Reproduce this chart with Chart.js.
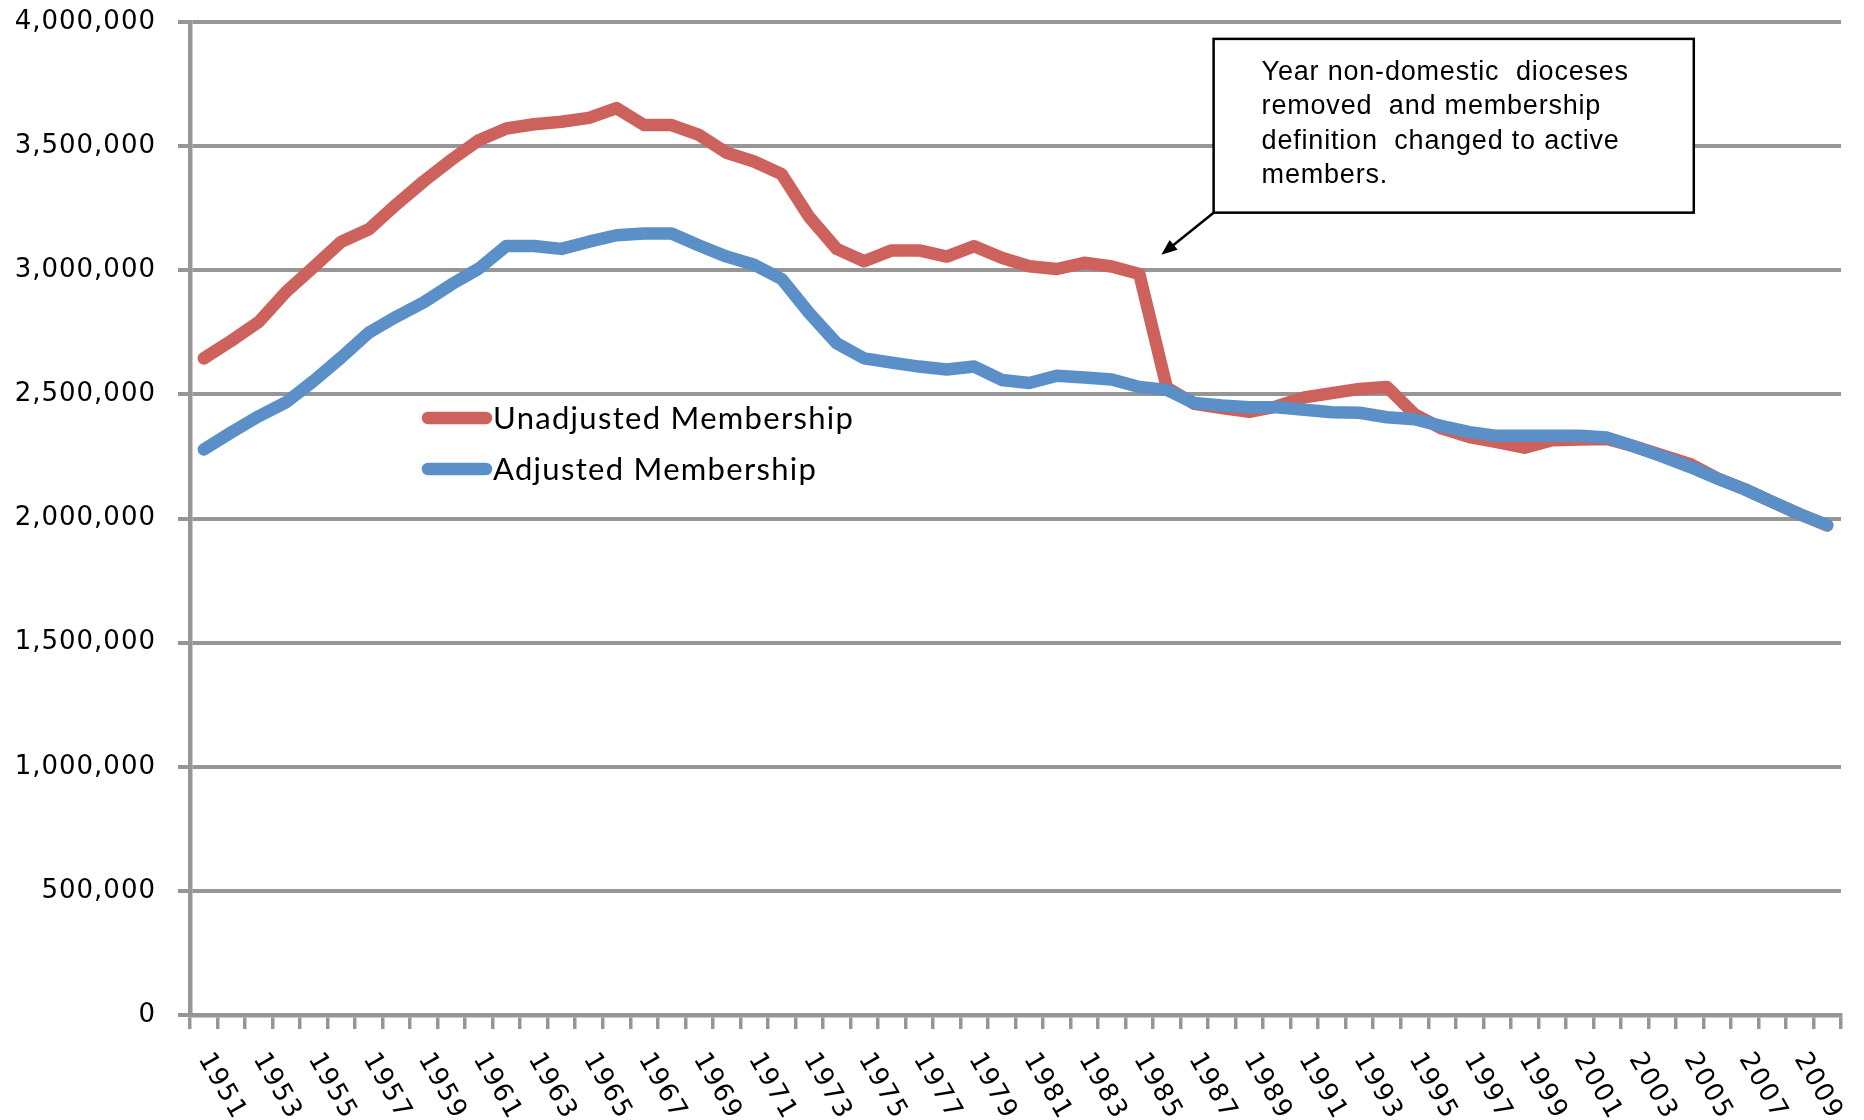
<!DOCTYPE html>
<html>
<head>
<meta charset="utf-8">
<title>Membership 1951-2010</title>
<script src="https://cdn.jsdelivr.net/npm/chart.js@4.4.1/dist/chart.umd.min.js"></script>
<style>
  html, body { margin: 0; padding: 0; background: #fff; }
  #wrap { width: 1864px; height: 1120px; position: relative; }
</style>
</head>
<body>
<div id="wrap"><canvas id="membershipChart"></canvas></div>
<script>
// Categories (one per year)
const years = [
  '1951', '1952', '1953', '1954', '1955', '1956', '1957', '1958', '1959', '1960',
  '1961', '1962', '1963', '1964', '1965', '1966', '1967', '1968', '1969', '1970',
  '1971', '1972', '1973', '1974', '1975', '1976', '1977', '1978', '1979', '1980',
  '1981', '1982', '1983', '1984', '1985', '1986', '1987', '1988', '1989', '1990',
  '1991', '1992', '1993', '1994', '1995', '1996', '1997', '1998', '1999', '2000',
  '2001', '2002', '2003', '2004', '2005', '2006', '2007', '2008', '2009', '2010'
];

// Only every other year is labelled on the axis
const xTickLabels = [
  '1951', '1953', '1955', '1957', '1959', '1961', '1963', '1965', '1967', '1969',
  '1971', '1973', '1975', '1977', '1979', '1981', '1983', '1985', '1987', '1989',
  '1991', '1993', '1995', '1997', '1999', '2001', '2003', '2005', '2007', '2009'
];

// Series values
const unadjusted = [
  2645000, 2716000, 2792000, 2914000, 3014000, 3115000, 3165000, 3265000, 3359000, 3445000,
  3524000, 3571000, 3588000, 3598000, 3614000, 3653000, 3585000, 3585000, 3545000, 3473000,
  3438000, 3387000, 3215000, 3086000, 3036000, 3080000, 3080000, 3055000, 3097000, 3050000,
  3016000, 3005000, 3030000, 3015000, 2985000, 2527000, 2462000, 2445000, 2430000, 2452000,
  2488000, 2505000, 2522000, 2530000, 2420000, 2362000, 2328000, 2308000, 2285000, 2315000,
  2318000, 2320000, 2290000, 2255000, 2220000, 2162000, 2118000, 2067000, 2017000, 1972000
];

const adjusted = [
  2278000, 2347000, 2412000, 2469000, 2555000, 2649000, 2749000, 2813000, 2871000, 2943000,
  3007000, 3098000, 3098000, 3086000, 3115000, 3141000, 3148000, 3148000, 3100000, 3055000,
  3022000, 2965000, 2828000, 2706000, 2645000, 2628000, 2612000, 2600000, 2612000, 2558000,
  2546000, 2575000, 2568000, 2560000, 2530000, 2518000, 2465000, 2455000, 2448000, 2448000,
  2438000, 2428000, 2426000, 2408000, 2400000, 2372000, 2348000, 2333000, 2333000, 2333000,
  2333000, 2326000, 2290000, 2250000, 2208000, 2161000, 2118000, 2067000, 2017000, 1974000
];

const seriesLabels = ['Unadjusted Membership', 'Adjusted Membership'];

const noteLines = [
  'Year non-domestic  dioceses',
  'removed  and membership',
  'definition  changed to active',
  'members.'
];

const GRID = '#969696';
const COLORS = { unadjusted: '#CD615B', adjusted: '#5B8FC7' };

// Callout box / arrow anchors in data terms (category index, value)
const NOTE_BOX = { left: 36.7, right: 54.15, top: 3932000, bottom: 3232000 };
const NOTE_TIP = { index: 34.8, value: 3062000 };

/**
 * Year labels (rotated clockwise), legend and callout
 */
const overlayPlugin = {
  id: 'overlay',
  beforeDraw(chart) {
    // spacing for the value axis labels
    chart.ctx.letterSpacing = '1px';
  },
  afterDraw(chart) {
    const { ctx, chartArea, scales: { x, y } } = chart;
    ctx.letterSpacing = '0px';
    ctx.save();

    // x labels
    ctx.font = '26px "DejaVu Sans"';
    ctx.fillStyle = '#000';
    ctx.textAlign = 'left';
    ctx.textBaseline = 'middle';
    ctx.letterSpacing = '1.5px';
    xTickLabels.forEach(label => {
      const px = x.getPixelForValue(years.indexOf(label));
      ctx.save();
      ctx.translate(px, chartArea.bottom + 40);
      ctx.rotate(Math.PI / 3);
      ctx.fillText(label, 0, 0);
      ctx.restore();
    });

    // legend
    ctx.letterSpacing = '1.3px';
    ctx.font = '31px Lato';
    ctx.lineCap = 'round';
    ctx.lineWidth = 12.5;
    chart.data.datasets.forEach((ds, i) => {
      const ly = chartArea.top + 396 + i * 51;
      const lx = chartArea.left + 238;
      ctx.strokeStyle = ds.borderColor;
      ctx.beginPath();
      ctx.moveTo(lx, ly);
      ctx.lineTo(lx + 58, ly);
      ctx.stroke();
      ctx.fillStyle = '#000';
      ctx.fillText(ds.label, lx + 65, ly + 1);
    });

    // callout box
    const bx0 = x.getPixelForValue(NOTE_BOX.left);
    const bx1 = x.getPixelForValue(NOTE_BOX.right);
    const by0 = y.getPixelForValue(NOTE_BOX.top);
    const by1 = y.getPixelForValue(NOTE_BOX.bottom);
    ctx.fillStyle = '#fff';
    ctx.fillRect(bx0, by0, bx1 - bx0, by1 - by0);
    ctx.strokeStyle = '#000';
    ctx.lineWidth = 2.5;
    ctx.lineCap = 'butt';
    ctx.strokeRect(bx0, by0, bx1 - bx0, by1 - by0);

    ctx.fillStyle = '#000';
    ctx.font = '27px "Liberation Sans"';
    ctx.letterSpacing = '0.8px';
    ctx.textBaseline = 'alphabetic';
    noteLines.forEach((line, i) => {
      ctx.fillText(line, bx0 + 48, by0 + 41 + i * 34.5);
    });
    ctx.letterSpacing = '0px';

    // arrow
    const tx = x.getPixelForValue(NOTE_TIP.index);
    const ty = y.getPixelForValue(NOTE_TIP.value);
    const ang = Math.atan2(ty - by1, tx - bx0);
    const head = 17;
    ctx.lineWidth = 2.5;
    ctx.beginPath();
    ctx.moveTo(bx0, by1);
    ctx.lineTo(tx - Math.cos(ang) * head * 0.8, ty - Math.sin(ang) * head * 0.8);
    ctx.stroke();
    ctx.beginPath();
    ctx.moveTo(tx, ty);
    ctx.lineTo(tx - head * Math.cos(ang - 0.38), ty - head * Math.sin(ang - 0.38));
    ctx.lineTo(tx - head * Math.cos(ang + 0.38), ty - head * Math.sin(ang + 0.38));
    ctx.closePath();
    ctx.fill();

    ctx.restore();
  }
};

const ctx = document.getElementById('membershipChart').getContext('2d');

new Chart(ctx, {
  type: 'line',
  data: {
    labels: years,
    datasets: [
      {
        label: seriesLabels[0],
        data: unadjusted,
        borderColor: COLORS.unadjusted,
        backgroundColor: COLORS.unadjusted,
        borderWidth: 12.5,
        borderCapStyle: 'round',
        borderJoinStyle: 'round',
        pointRadius: 0,
        tension: 0,
        order: 1
      },
      {
        label: seriesLabels[1],
        data: adjusted,
        borderColor: COLORS.adjusted,
        backgroundColor: COLORS.adjusted,
        borderWidth: 12.5,
        borderCapStyle: 'round',
        borderJoinStyle: 'round',
        pointRadius: 0,
        tension: 0,
        order: 0
      }
    ]
  },
  options: {
    responsive: true,
    maintainAspectRatio: false,
    animation: false,
    layout: {
      padding: { top: 22, right: 23, left: 0, bottom: 0 }
    },
    plugins: {
      legend: { display: false },
      tooltip: { enabled: false }
    },
    scales: {
      x: {
        offset: true,
        grid: {
          offset: true,
          drawOnChartArea: false,
          drawTicks: true,
          tickLength: 14,
          color: GRID,
          lineWidth: 3.5
        },
        border: { color: GRID, width: 4.5 },
        ticks: { display: false },
        afterFit(scale) {
          scale.height = 105;
          scale.paddingLeft = 0;
          scale.paddingRight = 0;
        }
      },
      y: {
        min: 0,
        max: 4000000,
        grid: {
          color: GRID,
          lineWidth: 4,
          drawTicks: true,
          tickLength: 12
        },
        border: { color: GRID, width: 4.5 },
        ticks: {
          stepSize: 500000,
          padding: 22,
          color: '#000',
          font: { family: '"DejaVu Sans"', size: 26 },
          callback: v => v.toLocaleString('en-US')
        },
        afterFit(scale) {
          scale.width = 190;
          scale.paddingTop = 0;
          scale.paddingBottom = 0;
        }
      }
    }
  },
  plugins: [overlayPlugin]
});
</script>
</body>
</html>
